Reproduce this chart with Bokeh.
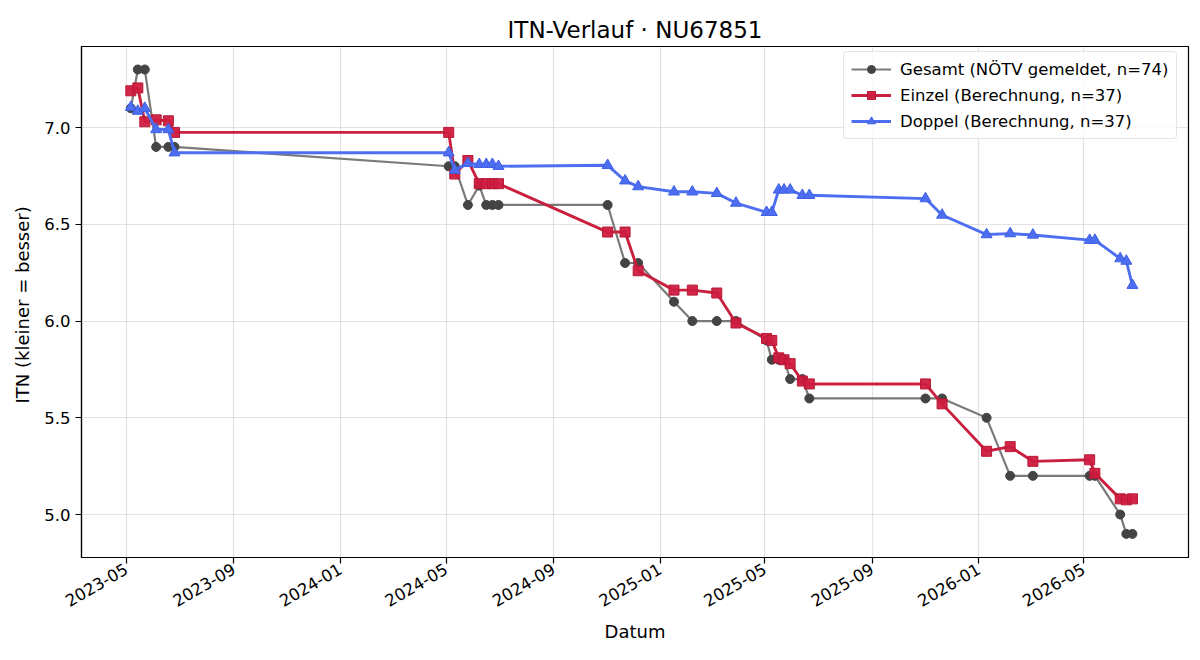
import math
from datetime import datetime, timedelta

from bokeh.plotting import figure
from bokeh.models import (Range1d, FixedTicker, DatetimeTickFormatter,
                          NumeralTickFormatter, Legend, LegendItem, ColumnDataSource)
from bokeh.embed import file_html
from bokeh.resources import INLINE

# --- data -------------------------------------------------------------------
dates = [
    "2023-05-06", "2023-05-14", "2023-05-22", "2023-06-04", "2023-06-18", "2023-06-25",
    "2024-05-04", "2024-05-11", "2024-05-26", "2024-06-08", "2024-06-16", "2024-06-23",
    "2024-06-30", "2024-11-02", "2024-11-22", "2024-12-07", "2025-01-17", "2025-02-07",
    "2025-03-07", "2025-03-29", "2025-05-03", "2025-05-09", "2025-05-17", "2025-05-23",
    "2025-05-30", "2025-06-13", "2025-06-21", "2025-11-01", "2025-11-20", "2026-01-10",
    "2026-02-06", "2026-03-04", "2026-05-08", "2026-05-14", "2026-06-12", "2026-06-19",
    "2026-06-26",
]

gesamt = [
    7.1, 7.3, 7.3, 6.9, 6.9, 6.9,
    6.8, 6.8, 6.6, 6.7, 6.6, 6.6,
    6.6, 6.6, 6.3, 6.3, 6.1, 6.0,
    6.0, 6.0, 5.9, 5.8, 5.8, 5.8,
    5.7, 5.7, 5.6, 5.6, 5.6, 5.5,
    5.2, 5.2, 5.2, 5.2, 5.0, 4.9,
    4.9,
]

einzel = [
    7.19, 7.205, 7.03, 7.04, 7.035, 6.975,
    6.975, 6.76, 6.83, 6.71, 6.71, 6.71,
    6.71, 6.46, 6.46, 6.26, 6.16, 6.16,
    6.145, 5.99, 5.91, 5.90, 5.81, 5.80,
    5.78, 5.69, 5.675, 5.675, 5.572, 5.327,
    5.351, 5.275, 5.283, 5.213, 5.081, 5.076,
    5.081,
]

doppel = [
    7.105, 7.085, 7.10, 6.99, 6.99, 6.87,
    6.87, 6.78, 6.815, 6.81, 6.81, 6.81,
    6.80, 6.805, 6.725, 6.695, 6.668, 6.668,
    6.66, 6.61, 6.562, 6.562, 6.678, 6.678,
    6.678, 6.65, 6.65, 6.633, 6.548, 6.447,
    6.452, 6.445, 6.418, 6.418, 6.323, 6.31,
    6.185,
]

x_tick_dates = ["2023-05-01", "2023-09-01", "2024-01-01", "2024-05-01", "2024-09-01",
                "2025-01-01", "2025-05-01", "2025-09-01", "2026-01-01", "2026-05-01"]
y_ticks = [5.0, 5.5, 6.0, 6.5, 7.0]

labels = ["Gesamt (NÖTV gemeldet, n=74)",
          "Einzel (Berechnung, n=37)",
          "Doppel (Berechnung, n=37)"]

# --- helpers ----------------------------------------------------------------
def to_dt(s):
    return datetime.strptime(s, "%Y-%m-%d")

def to_ms(d):
    return (d - datetime(1970, 1, 1)).total_seconds() * 1000.0

xs = [to_dt(d) for d in dates]
src = ColumnDataSource(dict(x=xs, g=gesamt, e=einzel, d=doppel))

FONT = "DejaVu Sans"

x_start = to_dt("2023-05-01") - timedelta(days=51.5)
x_end = to_dt("2023-05-01") + timedelta(days=1216.2)

p = figure(width=1200, height=660, x_axis_type="datetime",
           output_backend="svg", toolbar_location=None,
           x_range=Range1d(x_start, x_end), y_range=Range1d(4.778, 7.419),
           min_border_left=81, min_border_right=12, min_border_top=46,
           min_border_bottom=103)

p.title.text = "ITN-Verlauf · NU67851"
p.title.align = "center"
p.title.text_font = FONT
p.title.text_font_size = "23px"
p.title.text_font_style = "normal"
p.title.text_color = "black"
p.title.standoff = 7

p.outline_line_color = "black"
p.outline_line_width = 1.2
p.outline_line_alpha = 1

# grid
for g in (p.xgrid, p.ygrid):
    g.grid_line_color = "#b0b0b0"
    g.grid_line_alpha = 0.35
    g.grid_line_width = 1.2

# axes
xa = p.xaxis[0]
ya = p.yaxis[0]
xa.ticker = FixedTicker(ticks=[to_ms(to_dt(t)) for t in x_tick_dates])
fmt = "%Y-%m"
xa.formatter = DatetimeTickFormatter(years=fmt, months=fmt, days=fmt, hours=fmt,
                                     hourmin=fmt, minutes=fmt, minsec=fmt,
                                     seconds=fmt, milliseconds=fmt, microseconds=fmt)
xa.major_label_orientation = math.pi / 6
ya.ticker = FixedTicker(ticks=y_ticks)
ya.formatter = NumeralTickFormatter(format="0.0")

for ax in (xa, ya):
    ax.axis_line_color = "black"
    ax.axis_line_width = 1.2
    ax.major_tick_line_color = "black"
    ax.major_tick_line_width = 1.2
    ax.major_tick_out = 6
    ax.major_tick_in = 0
    ax.minor_tick_out = 0
    ax.minor_tick_in = 0
    ax.major_label_text_font = FONT
    ax.major_label_text_font_size = "16.5px"
    ax.major_label_text_color = "black"
    ax.axis_label_text_font = FONT
    ax.axis_label_text_font_size = "18px"
    ax.axis_label_text_font_style = "normal"
    ax.axis_label_text_color = "black"

xa.axis_label = "Datum"
ya.axis_label = "ITN  (kleiner = besser)"
ya.major_label_standoff = 5
xa.major_label_standoff = 4
xa.axis_label_standoff = 6
ya.axis_label_standoff = 8

# --- series -----------------------------------------------------------------
g_line = p.line("x", "g", source=src, line_color="#7a7a7a", line_width=2.2)
g_pts = p.scatter("x", "g", source=src, marker="circle", size=9,
                  fill_color="#444444", line_color="#444444")

e_line = p.line("x", "e", source=src, line_color="#c9203f", line_width=2.9)
e_pts = p.scatter("x", "e", source=src, marker="square", size=10,
                  fill_color="#cf1c40", line_color="#b81836", line_width=1,
                  fill_alpha=0.95)

d_line = p.line("x", "d", source=src, line_color="#4d6ef0", line_width=2.9)
d_pts = p.scatter("x", "d", source=src, marker="triangle", size=11,
                  fill_color="#4d6ef0", line_color="#3e60e6", line_width=1)

legend = Legend(items=[
    LegendItem(label=labels[0], renderers=[g_line, g_pts]),
    LegendItem(label=labels[1], renderers=[e_line, e_pts]),
    LegendItem(label=labels[2], renderers=[d_line, d_pts]),
], location=(762, 418))
legend.label_text_font = FONT
legend.label_text_font_size = "16.5px"
legend.label_text_color = "black"
legend.glyph_width = 40
legend.glyph_height = 20
legend.label_height = 20
legend.spacing = 6
legend.padding = 7
legend.margin = 0
legend.label_standoff = 9
legend.border_line_color = "#cccccc"
legend.border_line_width = 1
legend.border_radius = 4
legend.background_fill_alpha = 0.85
p.add_layout(legend)

open("out.html", "w").write(file_html(p, INLINE))
